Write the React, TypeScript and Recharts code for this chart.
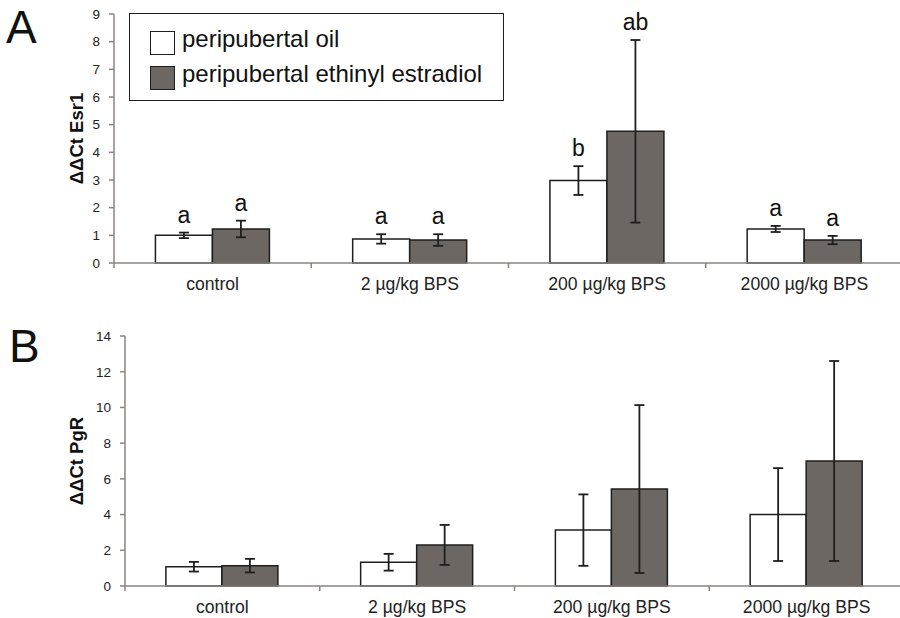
import React from 'react';
import { BarChart, Bar, XAxis, YAxis, ErrorBar, LabelList, Legend } from 'recharts';

const categories = ['control', '2 µg/kg BPS', '200 µg/kg BPS', '2000 µg/kg BPS'];
const seriesNames = ['peripubertal oil', 'peripubertal ethinyl estradiol'];

// panel A - Esr1
const esr1Oil = [1.0, 0.87, 2.98, 1.23];
const esr1OilErr = [0.1, 0.17, 0.52, 0.11];
const esr1EE = [1.23, 0.83, 4.76, 0.83];
const esr1EEErr = [0.3, 0.21, 3.3, 0.15];
const esr1OilLetters = ['a', 'a', 'b', 'a'];
const esr1EELetters = ['a', 'a', 'ab', 'a'];
const esr1Ticks = [0, 1, 2, 3, 4, 5, 6, 7, 8, 9];

// panel B - PgR
const pgrOil = [1.08, 1.33, 3.13, 4.0];
const pgrOilErr = [0.27, 0.47, 2.0, 2.6];
const pgrEE = [1.14, 2.3, 5.43, 7.0];
const pgrEEErr = [0.38, 1.12, 4.7, 5.6];
const pgrTicks = [0, 2, 4, 6, 8, 10, 12, 14];

const FONT = '"Liberation Sans", Arial, sans-serif';
const AXIS = '#8a8580';
const DARK = '#6c6762';
const INK = '#1e1e1e';

const esr1Data = categories.map((name, i) => ({
  name,
  oil: esr1Oil[i], oilErr: esr1OilErr[i], oilLetter: esr1OilLetters[i],
  ee: esr1EE[i], eeErr: esr1EEErr[i], eeLetter: esr1EELetters[i],
}));

const pgrData = categories.map((name, i) => ({
  name,
  oil: pgrOil[i], oilErr: pgrOilErr[i],
  ee: pgrEE[i], eeErr: pgrEEErr[i],
}));

// category label at the centre, tick mark at the left edge of the band
const CatTick = (props: any) => {
  const { x, y, payload } = props;
  const off = payload?.offset ?? 0;
  return (
    <g>
      <line x1={x - off} x2={x - off} y1={y} y2={y + 5} stroke={AXIS} strokeWidth={1.5} />
      <text x={x} y={y + 15} dy="0.71em" textAnchor="middle" fontSize={17.6} fill="#222" fontFamily={FONT}>
        {payload.value}
      </text>
    </g>
  );
};

// significance letter sits above the error bar top
const letterLabel = (errs: number[], vals: number[]) => (props: any) => {
  const vb = props.viewBox || props;
  const x = vb.x ?? props.x;
  const y = vb.y ?? props.y;
  const w = vb.width ?? props.width;
  const h = vb.height ?? props.height;
  const i = props.index ?? 0;
  const perUnit = Math.abs(h) / vals[i];
  const top = y - errs[i] * perUnit;
  return (
    <text x={x + w / 2} y={top - 10} textAnchor="middle" fontSize={23} fill="#111" fontFamily={FONT}>
      {props.value}
    </text>
  );
};

const LegendBox = (props: any) => {
  const items = [...(props.payload || [])].sort(
    (a: any, b: any) => seriesNames.indexOf(a.value) - seriesNames.indexOf(b.value)
  );
  return (
    <div style={{ position: 'relative', width: 375, height: 88, border: `1.5px solid ${INK}`, boxSizing: 'border-box', background: '#fff' }}>
      {items.map((it: any, i: number) => (
        <React.Fragment key={i}>
          <div style={{ position: 'absolute', left: 20, top: 17 + i * 35, width: 25, height: 24, boxSizing: 'border-box', border: `1.5px solid ${INK}`, background: it.payload?.fill ?? it.color }} />
          <div style={{ position: 'absolute', left: 52, top: 13 + i * 35, fontSize: 24, lineHeight: '24px', fontFamily: FONT, color: '#111', whiteSpace: 'nowrap' }}>
            {it.value}
          </div>
        </React.Fragment>
      ))}
    </div>
  );
};

const yTick = { fontSize: 13.5, fill: '#222', fontFamily: FONT };
const yLabelStyle = { textAnchor: 'middle', fontWeight: 'bold', fontSize: 18.5, fill: '#111', fontFamily: FONT };

export default function App() {
  return (
    <div style={{ position: 'absolute', left: 0, top: 0, width: 900, height: 618, overflow: 'hidden', background: '#fff', fontFamily: FONT }}>
      <div style={{ position: 'absolute', left: 6, top: 4, fontSize: 46, lineHeight: '46px', color: '#111' }}>A</div>
      <div style={{ position: 'absolute', left: 9, top: 323, fontSize: 46, lineHeight: '46px', color: '#111' }}>B</div>

      <div style={{ position: 'absolute', left: 0, top: 0 }}>
        <BarChart width={903} height={300} data={esr1Data} margin={{ top: 14, right: 0, left: 0, bottom: 7 }} barCategoryGap="21%" barGap={0}>
          <XAxis dataKey="name" height={30} axisLine={{ stroke: AXIS, strokeWidth: 1.5 }} tickLine={false} tickSize={0} tickMargin={0} tick={<CatTick />} interval={0} />
          <YAxis width={114} domain={[0, 9]} ticks={esr1Ticks} interval={0} axisLine={{ stroke: AXIS, strokeWidth: 1.5 }} tickLine={{ stroke: AXIS, strokeWidth: 1.5 }} tickSize={5} tickMargin={9} tick={yTick}
            label={{ value: 'ΔΔCt Esr1', angle: -90, position: 'insideLeft', offset: 76, style: yLabelStyle }} />
          <Legend layout="vertical" align="center" verticalAlign="middle" content={<LegendBox />} wrapperStyle={{ left: 129, top: 13, width: 375, height: 88 }} />
          <Bar dataKey="oil" name={seriesNames[0]} fill="#ffffff" stroke={INK} strokeWidth={1.5} isAnimationActive={false}>
            <ErrorBar dataKey="oilErr" width={5} stroke={INK} strokeWidth={1.8} direction="y" />
            <LabelList dataKey="oilLetter" content={letterLabel(esr1OilErr, esr1Oil)} />
          </Bar>
          <Bar dataKey="ee" name={seriesNames[1]} fill={DARK} stroke={INK} strokeWidth={1.5} isAnimationActive={false}>
            <ErrorBar dataKey="eeErr" width={5} stroke={INK} strokeWidth={1.8} direction="y" />
            <LabelList dataKey="eeLetter" content={letterLabel(esr1EEErr, esr1EE)} />
          </Bar>
        </BarChart>
      </div>

      <div style={{ position: 'absolute', left: 0, top: 300 }}>
        <BarChart width={904} height={318} data={pgrData} margin={{ top: 36, right: 0, left: 0, bottom: 2 }} barCategoryGap="21%" barGap={0}>
          <XAxis dataKey="name" height={30} axisLine={{ stroke: AXIS, strokeWidth: 1.5 }} tickLine={false} tickSize={0} tickMargin={0} tick={<CatTick />} interval={0} />
          <YAxis width={125} domain={[0, 14]} ticks={pgrTicks} interval={0} axisLine={{ stroke: AXIS, strokeWidth: 1.5 }} tickLine={{ stroke: AXIS, strokeWidth: 1.5 }} tickSize={5} tickMargin={9} tick={yTick}
            label={{ value: 'ΔΔCt PgR', angle: -90, position: 'insideLeft', offset: 76, style: yLabelStyle }} />
          <Bar dataKey="oil" name={seriesNames[0]} fill="#ffffff" stroke={INK} strokeWidth={1.5} isAnimationActive={false}>
            <ErrorBar dataKey="oilErr" width={5} stroke={INK} strokeWidth={1.8} direction="y" />
          </Bar>
          <Bar dataKey="ee" name={seriesNames[1]} fill={DARK} stroke={INK} strokeWidth={1.5} isAnimationActive={false}>
            <ErrorBar dataKey="eeErr" width={5} stroke={INK} strokeWidth={1.8} direction="y" />
          </Bar>
        </BarChart>
      </div>
    </div>
  );
}
